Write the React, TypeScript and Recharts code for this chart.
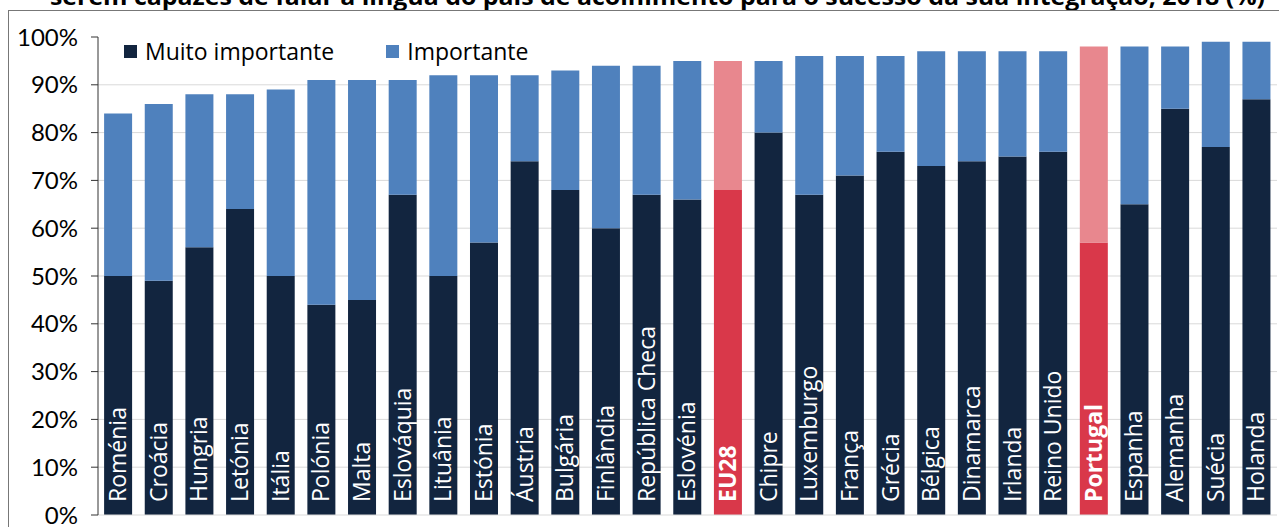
import { BarChart, Bar, XAxis, YAxis, CartesianGrid, LabelList, Cell } from 'recharts';

const countries = [
    'Roménia', 'Croácia', 'Hungria', 'Letónia', 'Itália', 'Polónia', 'Malta', 'Eslováquia',
    'Lituânia', 'Estónia', 'Áustria', 'Bulgária', 'Finlândia', 'República Checa', 'Eslovénia',
    'EU28', 'Chipre', 'Luxemburgo', 'França', 'Grécia', 'Bélgica', 'Dinamarca', 'Irlanda',
    'Reino Unido', 'Portugal', 'Espanha', 'Alemanha', 'Suécia', 'Holanda',
];

const muitoImportante = [50, 49, 56, 64, 50, 44, 45, 67, 50, 57, 74, 68, 60, 67, 66, 68, 80, 67, 71, 76, 73, 74, 75, 76, 57, 65, 85, 77, 87];
const importante = [34, 37, 32, 24, 39, 47, 46, 24, 42, 35, 18, 25, 34, 27, 29, 27, 15, 29, 25, 20, 24, 23, 22, 21, 41, 33, 13, 22, 12];

const highlighted = ['EU28', 'Portugal'];
const yTicks = [0, 10, 20, 30, 40, 50, 60, 70, 80, 90, 100];
const gridValues = [10, 20, 30, 40, 50, 60, 70, 80, 90];

const title = 'serem capazes de falar a língua do país de acolhimento para o sucesso da sua integração, 2018 (%)';

const NAVY = '#12253f';
const BLUE = '#4f81bd';
const RED = '#d9384a';
const PINK = '#e8878e';

const data = countries.map((name, i) => ({
    name,
    muito: muitoImportante[i],
    importante: importante[i],
}));

function BarLabel(props: any) {
    const { x, y, width, height, value } = props;
    const bold = highlighted.includes(value);
    const cx = x + width / 2 + 8;
    const by = y + height - 13;
    return (
        <text
            x={cx}
            y={by}
            transform={`rotate(-90 ${cx} ${by})`}
            fill="#fff"
            fontSize={23}
            fontWeight={bold ? 700 : 400}
            fontFamily="'Open Sans', sans-serif"
            textAnchor="start"
        >
            {value}
        </text>
    );
}

// legend sits inside the plot, top-left, like the original
function LegendBox() {
    const items = [
        { label: 'Muito importante', color: NAVY },
        { label: 'Importante', color: BLUE },
    ];
    return (
        <div style={{ position: 'absolute', left: 124, top: 36, display: 'flex', gap: 52, fontFamily: "'Open Sans', sans-serif", fontSize: 23, color: '#000', lineHeight: '30px' }}>
            {items.map((it) => (
                <div key={it.label} style={{ display: 'flex', alignItems: 'center' }}>
                    <span style={{ display: 'inline-block', width: 13, height: 13, background: it.color, marginRight: 8 }} />
                    {it.label}
                </div>
            ))}
        </div>
    );
}

export default function App() {
    return (
        <div style={{ position: 'absolute', left: 0, top: 0, width: 1279, height: 527, overflow: 'hidden', background: '#fff' }}>
            <svg width={1279} height={20} style={{ position: 'absolute', left: 0, top: 0 }}>
                <text x={50} y={5} fontSize={24} fontWeight={700} fontFamily="'Open Sans', sans-serif" textLength={1215} lengthAdjust="spacingAndGlyphs">
                    {title}
                </text>
            </svg>
            <div style={{ position: 'absolute', left: 8, top: 10, width: 1300, height: 600, borderLeft: '1.5px solid #777', borderTop: '1.5px solid #777' }} />
            <div style={{ position: 'absolute', left: 0, top: 0 }}>
                <BarChart width={1279} height={527} data={data} margin={{ top: 37, right: 2, left: 0, bottom: 11 }} barCategoryGap="15%">
                    <CartesianGrid horizontal vertical={false} stroke="#d9d9d9" horizontalValues={gridValues} />
                    <XAxis dataKey="name" tick={false} tickLine={false} height={1} axisLine={{ stroke: '#d9d9d9' }} />
                    <YAxis
                        width={98}
                        domain={[0, 100]}
                        ticks={yTicks}
                        interval={0}
                        tickFormatter={(v) => `${v}%`}
                        tickSize={7}
                        tickMargin={13}
                        axisLine={{ stroke: '#333' }}
                        tickLine={{ stroke: '#333' }}
                        tick={{ fill: '#000', fontSize: 24, fontFamily: "'Lato', sans-serif" }}
                    />
                    <Bar dataKey="muito" name="Muito importante" stackId="a" fill={NAVY} isAnimationActive={false}>
                        {data.map((d) => (
                            <Cell key={d.name} fill={highlighted.includes(d.name) ? RED : NAVY} />
                        ))}
                        <LabelList dataKey="name" content={<BarLabel />} />
                    </Bar>
                    <Bar dataKey="importante" name="Importante" stackId="a" fill={BLUE} isAnimationActive={false}>
                        {data.map((d) => (
                            <Cell key={d.name} fill={highlighted.includes(d.name) ? PINK : BLUE} />
                        ))}
                    </Bar>
                </BarChart>
            </div>
            <LegendBox />
        </div>
    );
}
